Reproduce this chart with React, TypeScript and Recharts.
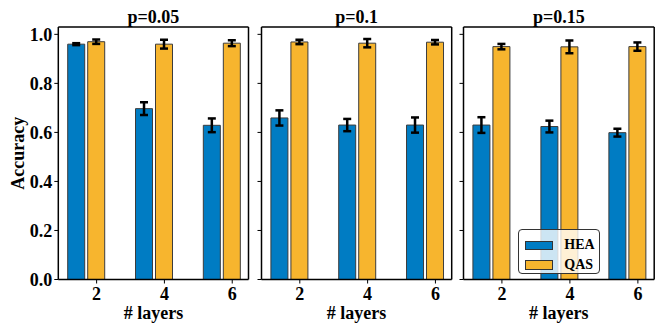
import { BarChart, Bar, XAxis, YAxis, ErrorBar, Legend } from 'recharts';

const layers = [2, 4, 6];
const panelTitles = ['p=0.05', 'p=0.1', 'p=0.15'];
const yTicks = [0, 0.2, 0.4, 0.6, 0.8, 1.0];

// accuracy + std for each noise level
const heaP005 = [0.960, 0.697, 0.629];
const heaErrP005 = [0.004, 0.026, 0.028];
const qasP005 = [0.970, 0.960, 0.964];
const qasErrP005 = [0.009, 0.018, 0.012];

const heaP01 = [0.659, 0.630, 0.630];
const heaErrP01 = [0.031, 0.025, 0.031];
const qasP01 = [0.969, 0.964, 0.968];
const qasErrP01 = [0.009, 0.017, 0.009];

const heaP015 = [0.630, 0.624, 0.599];
const heaErrP015 = [0.032, 0.024, 0.016];
const qasP015 = [0.950, 0.949, 0.950];
const qasErrP015 = [0.011, 0.026, 0.017];

const HEA_COLOR = '#007CC3';
const QAS_COLOR = '#F7B52E';
const FONT = "'Liberation Serif', 'Times New Roman', serif";

const buildRows = (hea: number[], heaErr: number[], qas: number[], qasErr: number[]) =>
  layers.map((l, i) => ({ layers: l, hea: hea[i], heaErr: heaErr[i], qas: qas[i], qasErr: qasErr[i] }));

const panels = [
  { title: panelTitles[0], data: buildRows(heaP005, heaErrP005, qasP005, qasErrP005) },
  { title: panelTitles[1], data: buildRows(heaP01, heaErrP01, qasP01, qasErrP01) },
  { title: panelTitles[2], data: buildRows(heaP015, heaErrP015, qasP015, qasErrP015) },
];

const tickStyle = { fill: '#000', fontSize: 18, fontWeight: 'bold', fontFamily: FONT };

function LegendBox({ payload }: any) {
  const items = (payload || []).filter((p: any) => p.type !== 'none');
  return (
    <div
      style={{
        width: 82,
        height: 45,
        boxSizing: 'border-box',
        border: '1px solid #333',
        borderRadius: 4,
        background: 'rgba(255,255,255,0.8)',
        padding: '6px 0 0 6px',
        fontFamily: FONT,
        fontWeight: 'bold',
        fontSize: 14,
      }}
    >
      {items.map((it: any) => (
        <div key={it.value} style={{ display: 'flex', alignItems: 'center', height: 19.5 }}>
          <span
            style={{
              display: 'inline-block',
              width: 28,
              height: 9.5,
              boxSizing: 'border-box',
              background: it.color,
              border: '1px solid #333',
              marginRight: 11,
            }}
          />
          <span style={{ color: '#000' }}>{it.value}</span>
        </div>
      ))}
    </div>
  );
}

type PanelProps = {
  title: string;
  data: any[];
  left: number;
  width: number;
  yWidth: number;
  rightMargin: number;
  first: boolean;
  legend: boolean;
};

function Panel({ title, data, left, width, yWidth, rightMargin, first, legend }: PanelProps) {
  return (
    <div style={{ position: 'absolute', left, top: 0 }}>
      <BarChart
        width={width}
        height={332}
        data={data}
        margin={{ top: 26, right: rightMargin, left: 0, bottom: 0 }}
        barSize={17}
        barGap={3}
      >
        <XAxis
          dataKey="layers"
          type="number"
          domain={[0.87, 6.48]}
          ticks={layers}
          height={52.5}
          tick={tickStyle}
          tickSize={4}
          tickMargin={4}
          tickLine={{ stroke: '#000' }}
          axisLine={{ stroke: '#000', strokeWidth: 1.5 }}
          label={{ value: '# layers', position: 'insideBottom', offset: 13, style: { ...tickStyle, textAnchor: 'middle' } }}
        />
        <XAxis
          xAxisId="top"
          orientation="top"
          dataKey="layers"
          type="number"
          domain={[0.87, 6.48]}
          height={1}
          tick={false}
          tickLine={false}
          axisLine={{ stroke: '#000', strokeWidth: 1.5 }}
          label={{ value: title, position: 'top', offset: 3.5, style: { ...tickStyle, textAnchor: 'middle' } }}
        />
        <YAxis
          domain={[0, 1.03]}
          ticks={yTicks}
          width={yWidth}
          tick={tickStyle}
          tickFormatter={(v: number) => (first ? v.toFixed(1) : '')}
          tickSize={4}
          tickMargin={2}
          tickLine={{ stroke: '#000' }}
          axisLine={{ stroke: '#000', strokeWidth: 1.5 }}
          label={
            first
              ? { value: 'Accuracy', angle: -90, position: 'insideLeft', offset: 18, style: { ...tickStyle, textAnchor: 'middle' } }
              : undefined
          }
        />
        <YAxis
          yAxisId="right"
          orientation="right"
          width={1}
          tick={false}
          tickLine={false}
          axisLine={{ stroke: '#000', strokeWidth: 1.5 }}
        />
        <Bar dataKey="hea" name="HEA" fill={HEA_COLOR} stroke="#3c3c3c" strokeWidth={1} isAnimationActive={false}>
          <ErrorBar dataKey="heaErr" width={4} strokeWidth={2.5} stroke="#000" direction="y" />
        </Bar>
        <Bar dataKey="qas" name="QAS" fill={QAS_COLOR} stroke="#3c3c3c" strokeWidth={1} isAnimationActive={false}>
          <ErrorBar dataKey="qasErr" width={4} strokeWidth={2.5} stroke="#000" direction="y" />
        </Bar>
        {/* empty slot so the QAS bar sits on the tick, as in the original */}
        <Bar dataKey="slot" fill="none" legendType="none" isAnimationActive={false} />
        {legend && (
          <Legend
            layout="vertical"
            align="center"
            verticalAlign="middle"
            content={<LegendBox />}
            wrapperStyle={{ left: 64.3, top: 228.7, width: 82, height: 45 }}
          />
        )}
      </BarChart>
    </div>
  );
}

export default function App() {
  return (
    <div style={{ position: 'absolute', left: 0, top: 0, width: 664, height: 332, background: '#fff', fontFamily: FONT }}>
      <Panel {...panels[0]} left={0} width={253} yWidth={58.3} rightMargin={3.5} first legend={false} />
      <Panel {...panels[1]} left={252} width={203} yWidth={9.5} rightMargin={2.3} first={false} legend={false} />
      <Panel {...panels[2]} left={454} width={210} yWidth={9.5} rightMargin={8.8} first={false} legend />
    </div>
  );
}
